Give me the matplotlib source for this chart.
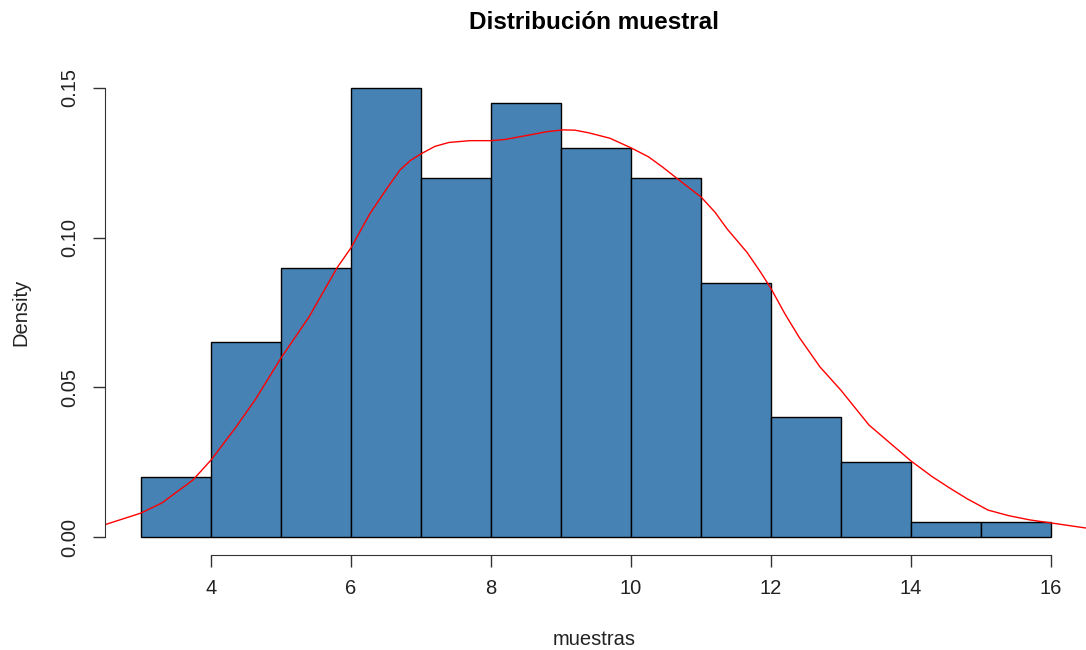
import numpy as np
import matplotlib.pyplot as plt

plt.rcParams['font.family'] = ['Liberation Sans', 'DejaVu Sans']

# histogram of the samples (density scale), unit-width bins from 3 to 16
bin_edges = [3, 4, 5, 6, 7, 8, 9, 10, 11, 12, 13, 14, 15, 16]
densities = [0.02, 0.065, 0.09, 0.15, 0.12, 0.145, 0.13, 0.12, 0.085, 0.04, 0.025, 0.005, 0.005]

# kernel density estimate of the same samples
kde_x = [2.47, 3.0, 3.3, 3.74, 4.0, 4.35, 4.63, 5.0, 5.4, 5.8, 6.0, 6.27, 6.5, 6.7,
         6.85, 7.0, 7.2, 7.4, 7.7, 8.0, 8.2, 8.55, 8.8, 9.03, 9.2, 9.4, 9.7, 10.0,
         10.25, 10.45, 10.7, 11.0, 11.2, 11.37, 11.66, 11.85, 12.0, 12.2, 12.4,
         12.7, 13.0, 13.2, 13.4, 13.7, 14.0, 14.3, 14.55, 14.8, 15.1, 15.4, 15.7,
         16.0, 16.5]
kde_y = [0.004, 0.008, 0.0114, 0.019, 0.0257, 0.0365, 0.0458, 0.0598, 0.0735, 0.0899,
         0.0966, 0.108, 0.116, 0.1226, 0.1258, 0.128, 0.1305, 0.1318, 0.1324, 0.1324,
         0.1328, 0.1343, 0.1354, 0.136, 0.1359, 0.135, 0.1332, 0.130, 0.127, 0.1236,
         0.119, 0.1136, 0.1085, 0.103, 0.095, 0.0885, 0.083, 0.0745, 0.0668, 0.0568,
         0.049, 0.0432, 0.0374, 0.0314, 0.0254, 0.0202, 0.0164, 0.0128, 0.009, 0.0071,
         0.0057, 0.0047, 0.003]

x_ticks = [4, 6, 8, 10, 12, 14, 16]
y_ticks = [0.00, 0.05, 0.10, 0.15]

fig = plt.figure(figsize=(10.86, 6.5), dpi=100)
ax = fig.add_axes([0.0963, 0.1462, 0.905, 0.7461])

edges = np.array(bin_edges)
ax.bar(edges[:-1], densities, width=np.diff(edges), align='edge',
       color='#4682B4', edgecolor='black', linewidth=1.0)
ax.plot(kde_x, kde_y, color='red', linewidth=1.0)

ax.set_xlim(2.48, 16.52)
ax.set_ylim(-0.006, 0.156)

for side in ['top', 'right']:
    ax.spines[side].set_visible(False)
ax.spines['left'].set_bounds(0, 0.15)
ax.spines['bottom'].set_bounds(4, 16)
ax.spines['left'].set_color('#333333')
ax.spines['bottom'].set_color('#333333')

ax.set_xticks(x_ticks)
ax.set_xticklabels([str(t) for t in x_ticks])
ax.set_yticks(y_ticks)
ax.set_yticklabels(['%.2f' % t for t in y_ticks], rotation=90, va='center')
ax.tick_params(axis='both', length=8.5, width=1.0, color='#333333',
               labelsize=14.5, labelcolor='#222222')
ax.tick_params(axis='x', pad=9)
ax.tick_params(axis='y', pad=10)

fig.text(0.547, 0.966, 'Distribución muestral', ha='center', va='center',
         fontsize=17.5, fontweight='bold')
fig.text(0.547, 0.016, 'muestras', ha='center', va='center', fontsize=14.5, color='#222222')
fig.text(0.019, 0.52, 'Density', ha='center', va='center', rotation=90,
         fontsize=14.5, color='#222222')

fig.savefig('out.png', dpi=100)
